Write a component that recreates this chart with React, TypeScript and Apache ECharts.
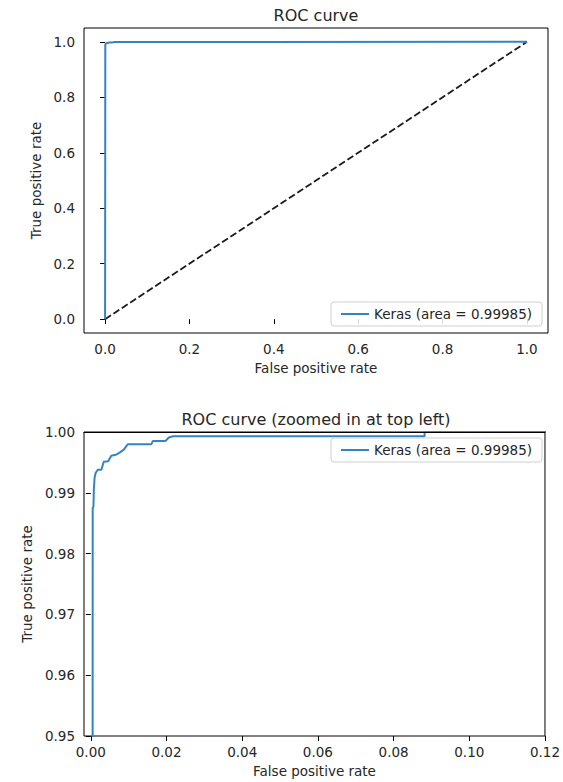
import React, { useEffect, useRef } from 'react';
import * as echarts from 'echarts';

// ROC curve points (false positive rate, true positive rate)
const fpr = [0, 0.0005, 0.0007, 0.0008, 0.001, 0.0013, 0.0019, 0.0028, 0.0034, 0.0046, 0.0054, 0.0068, 0.0078, 0.0087, 0.0098, 0.016, 0.0164, 0.0197, 0.0206, 0.0217, 0.0882, 0.0882, 1.0];
const tpr = [0, 0.9875, 0.9877, 0.9905, 0.9925, 0.9933, 0.9938, 0.9938, 0.9951, 0.9952, 0.9961, 0.9963, 0.9967, 0.9971, 0.998, 0.998, 0.9985, 0.9985, 0.9991, 0.9993, 0.9993, 1.0, 1.0];
// chance diagonal
const chanceX = [0, 1];
const chanceY = [0, 1];

const seriesLabel = 'Keras (area = 0.99985)';
const titles = ['ROC curve', 'ROC curve (zoomed in at top left)'];
const xName = 'False positive rate';
const yName = 'True positive rate';

const fullTicks = [0, 0.2, 0.4, 0.6, 0.8, 1.0];
const zoomXTicks = [0, 0.02, 0.04, 0.06, 0.08, 0.1, 0.12];
const zoomYTicks = [0.95, 0.96, 0.97, 0.98, 0.99, 1.0];

const FONT = 'DejaVu Sans';
const TXT = '#262626';
const BLUE = '#3584c2';

function axis(kind: 'x' | 'y', gridIndex: number, min: number, max: number, ticks: number[], digits: number, nameGap: number) {
  return {
    type: 'value',
    gridIndex,
    min,
    max,
    axisLine: { show: false },
    axisTick: { show: true, length: 5, inside: false, customValues: ticks, lineStyle: { color: '#000', width: 1 } },
    axisLabel: {
      customValues: ticks,
      formatter: (v: number) => v.toFixed(digits),
      fontSize: 13.5,
      fontFamily: FONT,
      color: TXT,
      margin: 9,
    },
    splitLine: { show: false },
    name: kind === 'x' ? xName : yName,
    nameLocation: 'middle',
    nameGap,
    nameTextStyle: { fontSize: 13.5, fontFamily: FONT, color: TXT },
  };
}

function legend(top: number) {
  return {
    data: [seriesLabel],
    right: 21,
    top,
    icon: 'rect',
    itemWidth: 28,
    itemHeight: 2,
    padding: [5, 10, 5, 10],
    borderColor: '#d0d0d0',
    borderWidth: 1,
    borderRadius: 3,
    backgroundColor: 'rgba(255,255,255,0.85)',
    selectedMode: false,
    textStyle: { fontSize: 13.5, fontFamily: FONT, color: TXT },
  };
}

export default function App() {
  const ref = useRef<HTMLDivElement>(null);
  useEffect(() => {
    if (!ref.current) return;
    const chart = echarts.init(ref.current, undefined, { renderer: 'svg' });
    const curve = fpr.map((x, i) => [x, tpr[i]]);
    const chance = chanceX.map((x, i) => [x, chanceY[i]]);
    chart.setOption({
      animation: false,
      backgroundColor: '#fff',
      textStyle: { fontFamily: FONT },
      grid: [
        { left: 84, top: 28, width: 464, height: 305, show: true, borderColor: '#000', borderWidth: 1, backgroundColor: 'transparent' },
        { left: 84, top: 432, width: 464, height: 304, show: true, borderColor: '#000', borderWidth: 1, backgroundColor: 'transparent' },
      ],
      xAxis: [
        axis('x', 0, -0.05, 1.05, fullTicks, 1, 28),
        axis('x', 1, -0.0018, 0.12, zoomXTicks, 2, 28),
        {
          type: 'value', gridIndex: 1, position: 'top', min: -0.0018, max: 0.12, z: 10,
          axisLine: { show: true, onZero: false, lineStyle: { color: '#000', width: 1 } },
          axisTick: { show: false }, axisLabel: { show: false }, splitLine: { show: false },
        },
      ],
      yAxis: [
        { ...axis('y', 0, -0.05, 1.05, fullTicks, 1, 38), nameRotate: 90 },
        { ...axis('y', 1, 0.95, 1.0, zoomYTicks, 2, 46), nameRotate: 90 },
      ],
      legend: [legend(302), legend(438)],
      graphic: [
        { type: 'text', x: 316, y: 15, style: { text: titles[0], align: 'center', verticalAlign: 'middle', fontSize: 16, fontFamily: FONT, fill: TXT } },
        { type: 'text', x: 316, y: 419, style: { text: titles[1], align: 'center', verticalAlign: 'middle', fontSize: 16, fontFamily: FONT, fill: TXT } },
      ],
      series: [
        {
          type: 'line', xAxisIndex: 0, yAxisIndex: 0, data: chance, symbol: 'none', silent: true, z: 2,
          lineStyle: { color: '#1a1a1a', width: 1.8, type: [7, 3] },
        },
        {
          name: seriesLabel, type: 'line', xAxisIndex: 0, yAxisIndex: 0, data: curve, symbol: 'none', z: 3,
          lineStyle: { color: BLUE, width: 2 }, itemStyle: { color: BLUE },
        },
        {
          name: seriesLabel, type: 'line', xAxisIndex: 1, yAxisIndex: 1, data: curve, symbol: 'none', z: 3, clip: true,
          lineStyle: { color: BLUE, width: 2 }, itemStyle: { color: BLUE },
        },
      ],
    });
    return () => chart.dispose();
  }, []);
  return (
    <div style={{ position: 'fixed', left: 0, top: 0, width: 563, height: 782, background: '#fff' }}>
      <div ref={ref} style={{ width: 563, height: 782 }} />
    </div>
  );
}
